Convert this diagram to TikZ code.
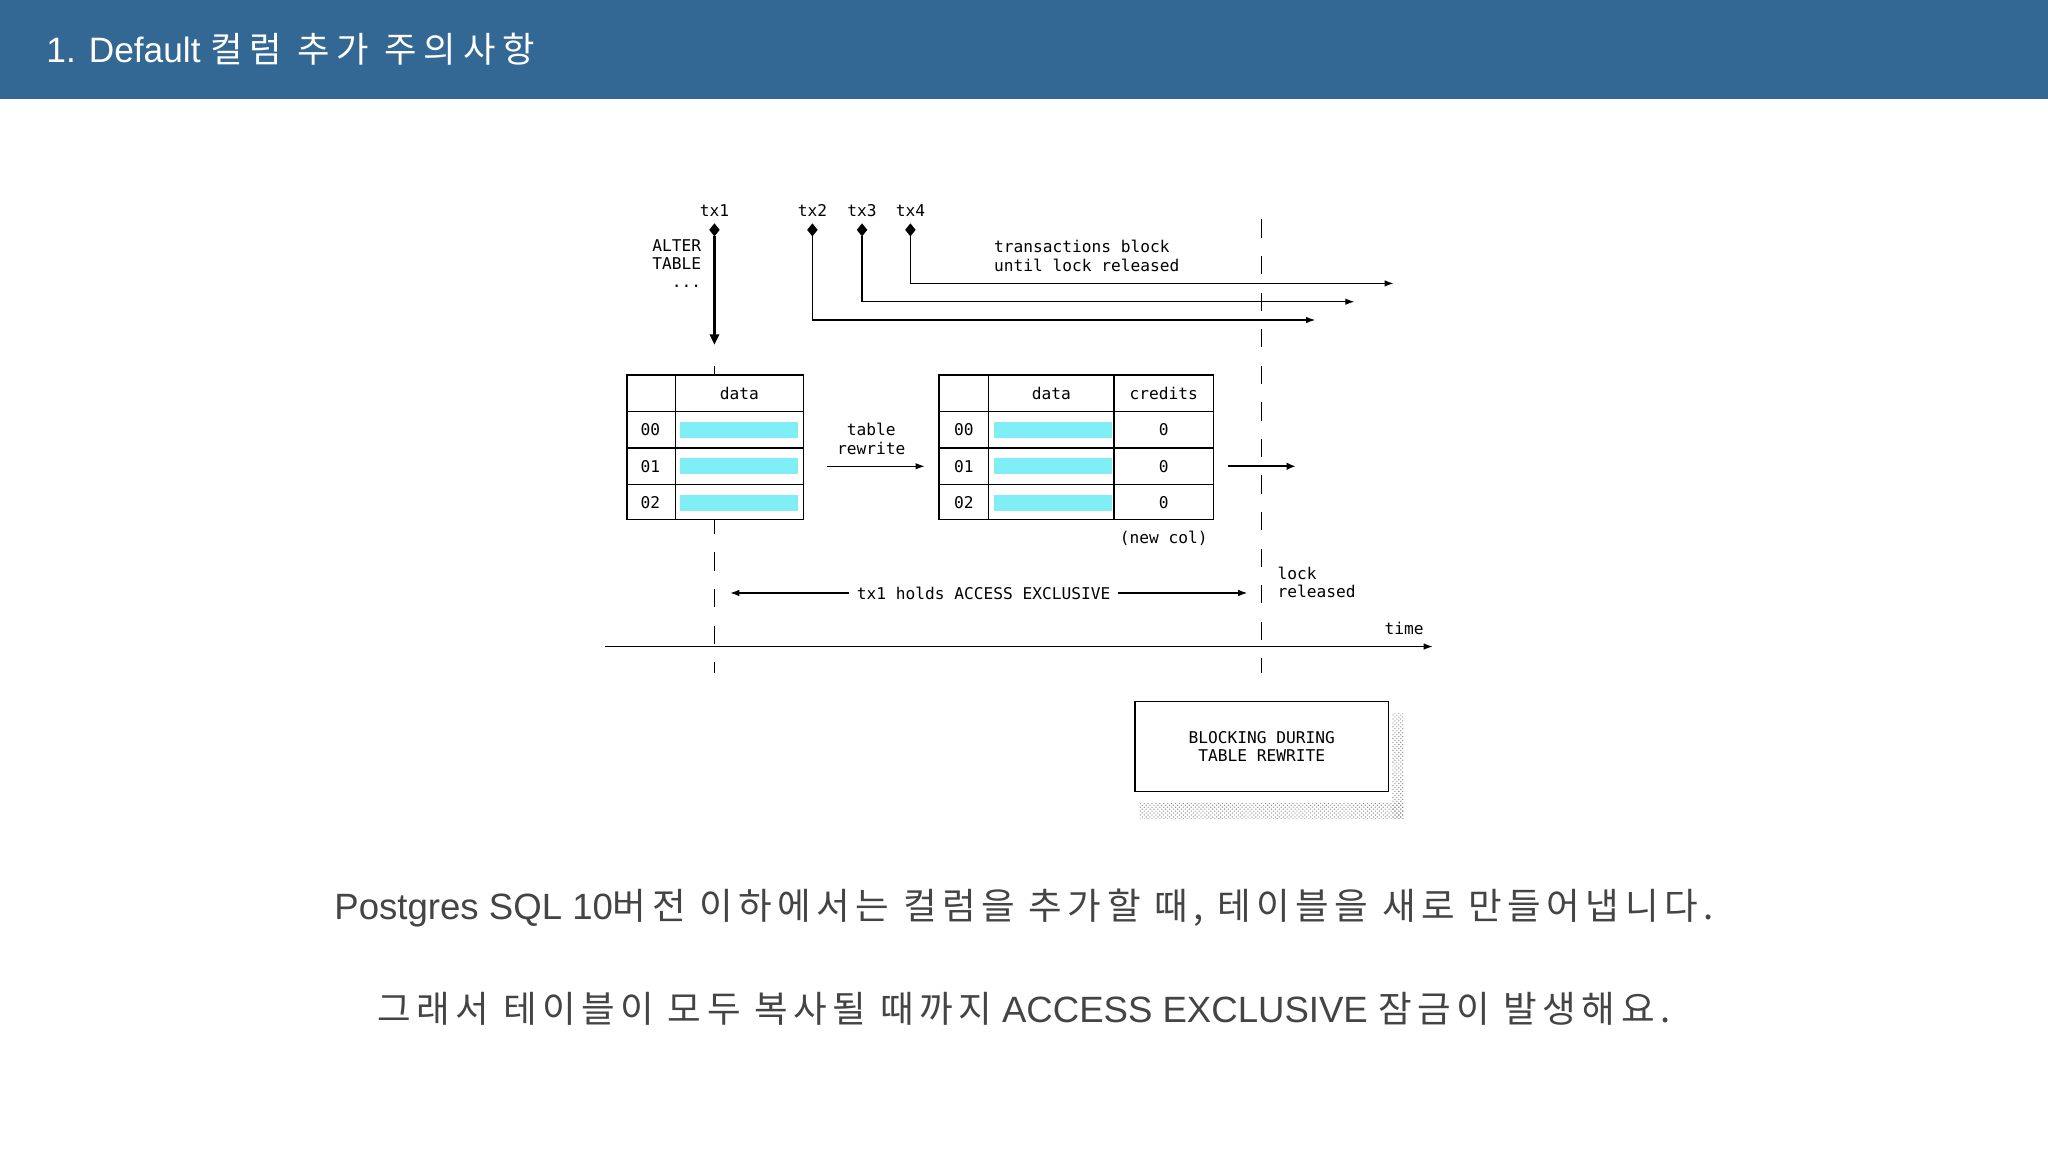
\documentclass[tikz,border=0pt]{standalone}
\usepackage{fontspec}
\setmainfont{Liberation Sans}
\newfontfamily\kr{Noto Sans CJK KR}[LetterSpace=15]
\newfontfamily\krh{Noto Sans CJK KR}[LetterSpace=20]
\newfontfamily\mono{DejaVu Sans Mono}
\usetikzlibrary{arrows.meta,patterns}
\definecolor{hdr}{HTML}{336894}
\definecolor{bar}{HTML}{7FEFF5}
\definecolor{txt}{HTML}{444444}
\tikzset{
  mt/.style={font=\mono\fontsize{12.4}{14}\selectfont, inner sep=0pt, align=center},
  ln/.style={line width=1pt},
  dsh/.style={line width=1pt, dash pattern=on 14pt off 14pt},
  arr/.style={ln,-{Latex[length=7pt,width=5pt]}},
}
\begin{document}
\begin{tikzpicture}[x=1pt,y=-1pt]
\useasboundingbox (0,0) rectangle (1568,882);
\fill[white] (0,0) rectangle (1568,882);
\fill[hdr] (0,0) rectangle (1568,76);
\node[anchor=west, text=white, font=\fontsize{27}{30}\selectfont] (title) at (32,38) {1. Default {\krh 컬럼 추가 주의사항}};

% dashed time lines
\draw[dsh, dash phase=4pt] (547,287) -- (547,515);
\draw[ln] (547,280) -- (547,287);
\draw[dsh] (966,168) -- (966,515);

% transactions
\node[mt] (tx1) at (547,161) {tx1};
\node[mt] (tx2) at (622,161) {tx2};
\node[mt] (tx3) at (660,161) {tx3};
\node[mt] (tx4) at (697,161) {tx4};
\foreach \x/\n in {547/d1,622/d2,660/d3,697/d4}
  \fill (\x,171) coordinate (\n) -- (\x+4,176) -- (\x,181) -- (\x-4,176) -- cycle;
\coordinate (a1) at (547,264);
\draw[line width=2pt,-{Triangle[length=8pt,width=7pt]}] (547,181) -- (a1);
\node[mt, anchor=north east, align=right] (alter) at (537,183) {ALTER\\TABLE\\...};
\coordinate (e4) at (1067,217);
\coordinate (e3) at (1037,231);
\coordinate (e2) at (1007,245);
\draw[arr] (697,181) |- (e4);
\draw[arr] (660,181) |- (e3);
\draw[arr] (622,181) |- (e2);
\node[mt, anchor=west, align=left] (blk) at (761,196) {transactions block\\until lock released};

% table 1
\fill[white] (480,287) rectangle (615,398);
\draw[ln] (480,287) rectangle (615,398);
\draw[ln] (517,287) -- (517,398);
\foreach \y in {315,343,371} \draw[ln] (480,\y) -- (615,\y);
\node[mt] (h1) at (566,301) {data};
\foreach \y/\r in {329/00,357/01,385/02}{
  \node[mt] at (498,\y) {\r};
  \fill[bar] (521,\y-6) rectangle (611,\y+6);
}
% rewrite
\node[mt] (rw) at (667,336) {table\\rewrite};
\coordinate (r1) at (633,357); \coordinate (r2) at (708,357);
\draw[arr] (r1) -- (r2);

% table 2
\fill[white] (719,287) rectangle (929,398);
\draw[ln] (719,287) rectangle (929,398);
\draw[ln] (757,287) -- (757,398);
\draw[ln] (853,287) -- (853,398);
\foreach \y in {315,343,371} \draw[ln] (719,\y) -- (929,\y);
\node[mt] (h2) at (805,301) {data};
\node[mt] (h3) at (891,301) {credits};
\foreach \y/\r in {329/00,357/01,385/02}{
  \node[mt] at (738,\y) {\r};
  \fill[bar] (761,\y-6) rectangle (851,\y+6);
  \node[mt] at (891,\y) {0};
}
\node[mt] (nc) at (891,412) {(new col)};
\coordinate (o1) at (940,357); \coordinate (o2) at (992,357);
\draw[line width=1.6pt,-{Latex[length=7pt,width=6pt]}] (o1) -- (o2);

\node[mt, anchor=west, align=left] (lr) at (978,446) {lock\\released};
\coordinate (h1a) at (559,454); \coordinate (h1b) at (955,454);
\draw[ln,{Latex[length=7pt,width=5pt]}-{Latex[length=7pt,width=5pt]}] (h1a) -- (h1b);
\node[mt, fill=white, inner xsep=6pt, inner ysep=3pt] (hold) at (753,454) {tx1 holds ACCESS EXCLUSIVE};

\node[mt] (time) at (1075,481) {time};
\coordinate (t0) at (463,495); \coordinate (t1) at (1097,495);
\draw[arr] (t0) -- (t1);

% blocking box
\fill[pattern=crosshatch dots, pattern color=gray] (1066,546) rectangle (1075,627);
\fill[pattern=crosshatch dots, pattern color=gray] (872,615) rectangle (1075,627);
\node[mt, draw, line width=1.2pt, fill=white, minimum width=194pt, minimum height=69pt] (box) at (966,571.5) {BLOCKING DURING\\TABLE REWRITE};

% bottom text
\node[text=txt, font=\fontsize{28}{32}\selectfont] (l1) at (784,695) {Postgres SQL 10{\kr 버전 이하에서는 컬럼을 추가할 때, 테이블을 새로 만들어냅니다.}};
\node[text=txt, font=\fontsize{28}{32}\selectfont] (l2) at (784,772) {{\kr 그래서 테이블이 모두 복사될 때까지} ACCESS EXCLUSIVE {\kr 잠금이 발생해요.}};
\end{tikzpicture}
\end{document}
